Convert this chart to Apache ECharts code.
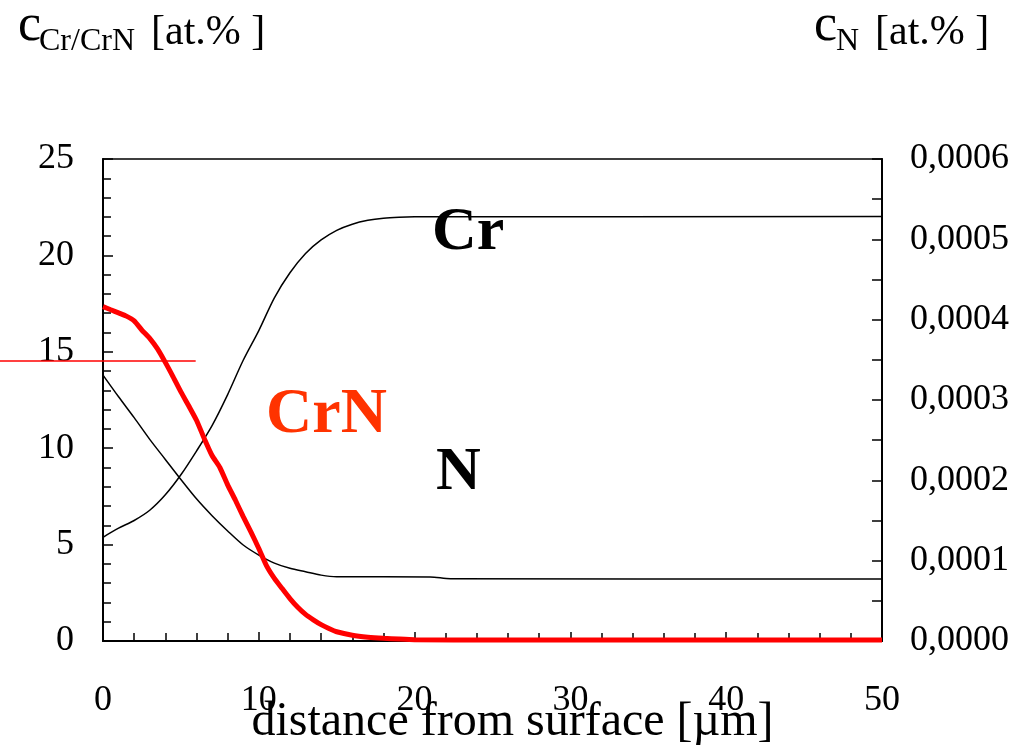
<!DOCTYPE html>
<html>
<head>
<meta charset="utf-8">
<script src="https://cdn.jsdelivr.net/npm/echarts@6/dist/echarts.min.js"></script>
<style>html,body{margin:0;padding:0;background:#fff}#c{width:1021px;height:746px}</style>
</head>
<body>
<div id="c"></div>
<script>
// distance from surface [µm] and concentrations
var crX   = [0, 1, 2, 3, 4, 5, 6, 7, 8, 9, 10, 11, 12, 13, 14, 15, 16, 17, 18, 19, 20, 50];
var crY   = [5.38, 5.85, 6.25, 6.78, 7.58, 8.62, 9.85, 11.17, 12.78, 14.56, 16.1, 17.8, 19.1, 20.1, 20.8, 21.3, 21.62, 21.82, 21.93, 21.98, 22.0, 22.02];

var crnX  = [0, 0.5, 1, 1.5, 2, 2.5, 3, 3.5, 4, 4.5, 5, 5.5, 6, 6.5, 7, 7.5, 8, 8.5, 9, 9.5, 10, 10.5, 11, 11.5, 12, 12.5, 13, 13.5, 14, 14.5, 15, 16, 17, 18, 19, 20, 25, 50];
var crnY  = [17.34, 17.18, 17.02, 16.85, 16.6, 16.12, 15.7, 15.15, 14.45, 13.7, 12.92, 12.2, 11.45, 10.5, 9.62, 9.0, 8.1, 7.3, 6.45, 5.65, 4.8, 3.9, 3.25, 2.72, 2.2, 1.75, 1.38, 1.1, 0.85, 0.65, 0.48, 0.3, 0.2, 0.14, 0.1, 0.07, 0.05, 0.05];

var nX    = [0, 1, 2, 3, 4, 5, 6, 7, 8, 9, 10, 11, 12, 13, 14, 15, 21, 22.3, 50];
var nY    = [0.000331, 0.000304, 0.000278, 0.000251, 0.000226, 0.000201, 0.000177, 0.000156, 0.000137, 0.0001195, 0.000107, 0.000097, 0.0000905, 0.0000862, 0.0000820, 0.0000800, 0.0000797, 0.0000775, 0.0000772];

// stray red horizontal line in the original figure (same data space, extended to the page's left edge)
var strayX = [-6.61, 5.95];
var strayY = [14.52, 14.52];

var xTicks = [0, 10, 20, 30, 40, 50];
var leftTicks = [0, 5, 10, 15, 20, 25];
var rightTicks = [0, 0.0001, 0.0002, 0.0003, 0.0004, 0.0005, 0.0006];

function zip(a, b) { return a.map(function (v, i) { return [v, b[i]]; }); }

var FONT = '"Liberation Serif", "Times New Roman", serif';
var chart = echarts.init(document.getElementById('c'), null, { renderer: 'canvas' });

chart.setOption({
  animation: false,
  backgroundColor: '#fff',
  grid: [
    { left: 103, right: 139, top: 159, bottom: 105, show: true, borderColor: '#000', borderWidth: 1.5, containLabel: false, outerBoundsMode: 'none' },
    { left: 0, right: 139, top: 159, bottom: 105, show: false, containLabel: false, outerBoundsMode: 'none' }
  ],
  xAxis: [{
    type: 'value', gridIndex: 0, min: xTicks[0], max: xTicks[xTicks.length - 1], interval: 10,
    name: 'distance from surface [µm]', nameLocation: 'middle', nameGap: 81, nameMoveOverlap: false,
    nameTextStyle: { fontFamily: FONT, fontSize: 48, color: '#000', padding: [0, 0, 0, 40], verticalAlign: 'middle' },
    axisLine: { lineStyle: { color: '#000', width: 2 } },
    axisTick: { inside: true, length: 9, lineStyle: { color: '#000', width: 1.5 } },
    minorTick: { show: true, splitNumber: 5, length: 8, lineStyle: { color: '#000', width: 1.5 } },
    axisLabel: { fontFamily: FONT, fontSize: 36, color: '#000', margin: 42 },
    splitLine: { show: false }
  }, {
    type: 'value', gridIndex: 1, min: strayX[0], max: xTicks[xTicks.length - 1], show: false
  }],
  yAxis: [
    {
      type: 'value', gridIndex: 0, min: leftTicks[0], max: leftTicks[leftTicks.length - 1], interval: 5, position: 'left',
      axisLine: { show: true, lineStyle: { color: '#000', width: 2 } },
      axisTick: { show: true, inside: true, length: 10, lineStyle: { color: '#000', width: 1.5 } },
      minorTick: { show: true, splitNumber: 5, length: 8, lineStyle: { color: '#000', width: 1.5 } },
      axisLabel: { fontFamily: FONT, fontSize: 36, color: '#000', margin: 29 },
      splitLine: { show: false }
    },
    {
      type: 'value', gridIndex: 0, min: rightTicks[0], max: rightTicks[rightTicks.length - 1], interval: 0.0001, position: 'right',
      axisLine: { show: true, lineStyle: { color: '#000', width: 2 } },
      axisTick: { show: true, inside: true, length: 10, lineStyle: { color: '#000', width: 1.5 } },
      minorTick: { show: true, splitNumber: 2, length: 10, lineStyle: { color: '#000', width: 1.5 } },
      axisLabel: { fontFamily: FONT, fontSize: 36, color: '#000', margin: 28,
        formatter: function (v) { return v.toFixed(4).replace('.', ','); } },
      splitLine: { show: false }
    },
    {
      type: 'value', gridIndex: 1, min: leftTicks[0], max: leftTicks[leftTicks.length - 1], show: false
    }
  ],
  series: [
    { name: 'Cr', type: 'line', xAxisIndex: 0, yAxisIndex: 0, data: zip(crX, crY), showSymbol: false, symbol: 'none', smooth: 0.3,
      lineStyle: { color: '#000', width: 1.5 } },
    { name: 'N', type: 'line', xAxisIndex: 0, yAxisIndex: 1, data: zip(nX, nY), showSymbol: false, symbol: 'none', smooth: 0.3,
      lineStyle: { color: '#000', width: 1.5 } },
    { name: 'CrN', type: 'line', xAxisIndex: 0, yAxisIndex: 0, data: zip(crnX, crnY), showSymbol: false, symbol: 'none', smooth: 0.2,
      lineStyle: { color: '#ff0000', width: 5 }, z: 3 },
    { name: 'stray', type: 'line', xAxisIndex: 1, yAxisIndex: 2, data: zip(strayX, strayY), showSymbol: false, symbol: 'none',
      lineStyle: { color: '#ff0000', width: 1.5 }, z: 4 }
  ],
  graphic: [
    { type: 'text', x: 18, y: 26, style: { text: 'c', font: '52px ' + FONT, fill: '#000', align: 'left', verticalAlign: 'middle' } },
    { type: 'text', x: 39, y: 42, style: { text: 'Cr/CrN', font: '32px ' + FONT, fill: '#000', align: 'left', verticalAlign: 'middle' } },
    { type: 'text', x: 151, y: 33, style: { text: '[at.% ]', font: '42px ' + FONT, fill: '#000', align: 'left', verticalAlign: 'middle' } },
    { type: 'text', x: 814, y: 26, style: { text: 'c', font: '52px ' + FONT, fill: '#000', align: 'left', verticalAlign: 'middle' } },
    { type: 'text', x: 836, y: 42, style: { text: 'N', font: '32px ' + FONT, fill: '#000', align: 'left', verticalAlign: 'middle' } },
    { type: 'text', x: 875, y: 33, style: { text: '[at.% ]', font: '42px ' + FONT, fill: '#000', align: 'left', verticalAlign: 'middle' } },
    { type: 'text', x: 432, y: 233, style: { text: 'Cr', font: 'bold 62px ' + FONT, fill: '#000', align: 'left', verticalAlign: 'middle' } },
    { type: 'text', x: 266, y: 415, style: { text: 'CrN', font: 'bold 64px ' + FONT, fill: '#ff3300', align: 'left', verticalAlign: 'middle' } },
    { type: 'text', x: 436, y: 473, style: { text: 'N', font: 'bold 62px ' + FONT, fill: '#000', align: 'left', verticalAlign: 'middle' } }
  ]
});
</script>
</body>
</html>
